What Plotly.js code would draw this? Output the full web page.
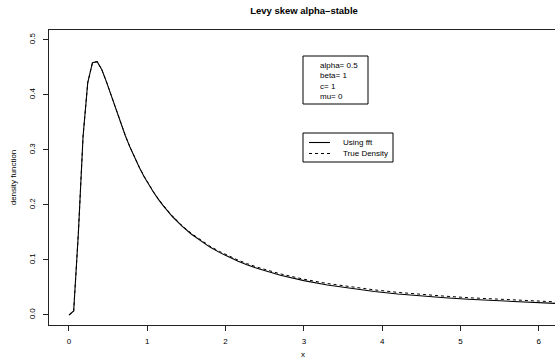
<!DOCTYPE html>
<html>
<head>
<meta charset="utf-8">
<script src="https://cdn.plot.ly/plotly-3.0.1.min.js"></script>
<style>
html,body{margin:0;padding:0;overflow:hidden;background:#fff;}
#chart{width:558px;height:363px;}
</style>
</head>
<body>
<div id="chart"></div>
<script>
// x grid (shared by both curves)
const xValues = [0, 0.06, 0.12, 0.18, 0.24, 0.30, 0.36, 0.42, 0.48, 0.54, 0.60, 0.66, 0.72, 0.78, 0.84, 0.90, 0.96, 1.02, 1.08, 1.14, 1.20,
  1.32, 1.44, 1.56, 1.68, 1.80, 1.92, 2.04, 2.16, 2.28, 2.40,
  2.70, 3.00, 3.30, 3.60, 3.90, 4.20, 4.50, 4.80, 5.10, 5.40, 5.70, 6.00, 6.30];
// density computed with fft (solid)
const fftDensity = [0, 0.0072, 0.1488, 0.3248, 0.4225, 0.4586, 0.4605, 0.4457, 0.4233, 0.3983, 0.3731, 0.3486, 0.3259, 0.3047, 0.2854, 0.2677, 0.2514, 0.2366, 0.2230, 0.2106, 0.1991,
  0.1790, 0.1619, 0.1472, 0.1345, 0.1234, 0.1138, 0.1053, 0.0977, 0.0910, 0.0849,
  0.0723, 0.0624, 0.0545, 0.0480, 0.0427, 0.0382, 0.0345, 0.0313, 0.0285, 0.0261, 0.0240, 0.0221, 0.0204];
// true Levy density (dashed)
const trueDensity = [0, 0.0065, 0.1488, 0.3248, 0.4225, 0.4586, 0.4605, 0.4457, 0.4233, 0.3983, 0.3731, 0.3488, 0.3261, 0.3050, 0.2857, 0.2681, 0.2519, 0.2372, 0.2237, 0.2114, 0.2001,
  0.1801, 0.1631, 0.1486, 0.1360, 0.1251, 0.1156, 0.1072, 0.0997, 0.0931, 0.0871,
  0.0747, 0.0650, 0.0572, 0.0508, 0.0456, 0.0411, 0.0374, 0.0342, 0.0314, 0.0290, 0.0269, 0.0250, 0.0233];
const seriesNames = ["Using fft", "True Density"];
const paramLines = ["alpha= 0.5", "beta= 1", "c= 1", "mu= 0"];
const xTicks = [0, 1, 2, 3, 4, 5, 6];
const yTicks = [0.0, 0.1, 0.2, 0.3, 0.4, 0.5];
const yTickText = ["0.0", "0.1", "0.2", "0.3", "0.4", "0.5"];

const FONT = "Liberation Sans, Arial, Helvetica, sans-serif";
const W = 558, H = 363, ML = 49, MR = 1, MT = 30, MB = 38;
const PW = W - ML - MR, PH = H - MT - MB;
// pixel -> paper helpers for decorations (legend boxes)
const px = v => (v - ML) / PW;
const py = v => (H - MB - v) / PH;

const traces = [
  {x: xValues, y: fftDensity, mode: "lines", name: seriesNames[0],
   line: {color: "#000", width: 1.1}},
  {x: xValues, y: trueDensity, mode: "lines", name: seriesNames[1],
   line: {color: "#000", width: 1, dash: "3px,3px"}}
];

const shapes = [
  // parameter box
  {type: "rect", xref: "paper", yref: "paper", x0: px(303), x1: px(368), y0: py(104), y1: py(56),
   line: {color: "#000", width: 1}, fillcolor: "#fff", layer: "above"},
  // legend box
  {type: "rect", xref: "paper", yref: "paper", x0: px(303), x1: px(393), y0: py(162), y1: py(133),
   line: {color: "#000", width: 1}, fillcolor: "#fff", layer: "above"},
  // legend samples
  {type: "line", xref: "paper", yref: "paper", x0: px(309), x1: px(330), y0: py(142.5), y1: py(142.5),
   line: {color: "#000", width: 1.1}, layer: "above"},
  {type: "line", xref: "paper", yref: "paper", x0: px(309), x1: px(331), y0: py(153.5), y1: py(153.5),
   line: {color: "#000", width: 1, dash: "3px,3px"}, layer: "above"}
];

const annFont = {family: FONT, size: 8, color: "#000"};
const annotations = [
  {xref: "paper", yref: "paper", x: px(318), y: py(81), xanchor: "left", yanchor: "middle",
   text: paramLines.join("<br>"), align: "left", showarrow: false, font: annFont},
  {xref: "paper", yref: "paper", x: px(341), y: py(142.5), xanchor: "left", yanchor: "middle",
   text: seriesNames[0], showarrow: false, font: annFont},
  {xref: "paper", yref: "paper", x: px(341), y: py(153.5), xanchor: "left", yanchor: "middle",
   text: seriesNames[1], showarrow: false, font: annFont}
];

const layout = {
  width: W, height: H,
  margin: {l: ML, r: MR, t: MT, b: MB},
  paper_bgcolor: "#fff", plot_bgcolor: "#fff",
  font: {family: FONT, size: 8, color: "#000"},
  title: {text: "<b>Levy skew alpha\u2013stable</b>", font: {family: FONT, size: 9.5, color: "#000"},
          x: 304/W, xanchor: "center", y: 1 - 11/H, yanchor: "middle"},
  xaxis: {range: [-0.255, 6.232], tickvals: xTicks, ticktext: xTicks.map(String),
          showgrid: false, zeroline: false, showline: true, mirror: true, linecolor: "#222", linewidth: 1,
          ticks: "outside", ticklen: 5, tickcolor: "#222", tickwidth: 1, ticklabelstandoff: 3,
          tickfont: {family: FONT, size: 8, color: "#000"},
          title: {text: "x", font: {family: FONT, size: 8, color: "#000"}, standoff: 6}},
  yaxis: {range: [-0.0182, 0.518], tickvals: yTicks, ticktext: yTickText, tickangle: -90,
          showgrid: false, zeroline: false, showline: true, mirror: true, linecolor: "#222", linewidth: 1,
          ticks: "outside", ticklen: 5, tickcolor: "#222", tickwidth: 1, ticklabelstandoff: 5,
          tickfont: {family: FONT, size: 8, color: "#000"},
          title: {text: "density function", font: {family: FONT, size: 8, color: "#000"}, standoff: 9}},
  showlegend: false,
  shapes: shapes,
  annotations: annotations
};

Plotly.newPlot("chart", traces, layout, {displayModeBar: false, staticPlot: true});
</script>
</body>
</html>
